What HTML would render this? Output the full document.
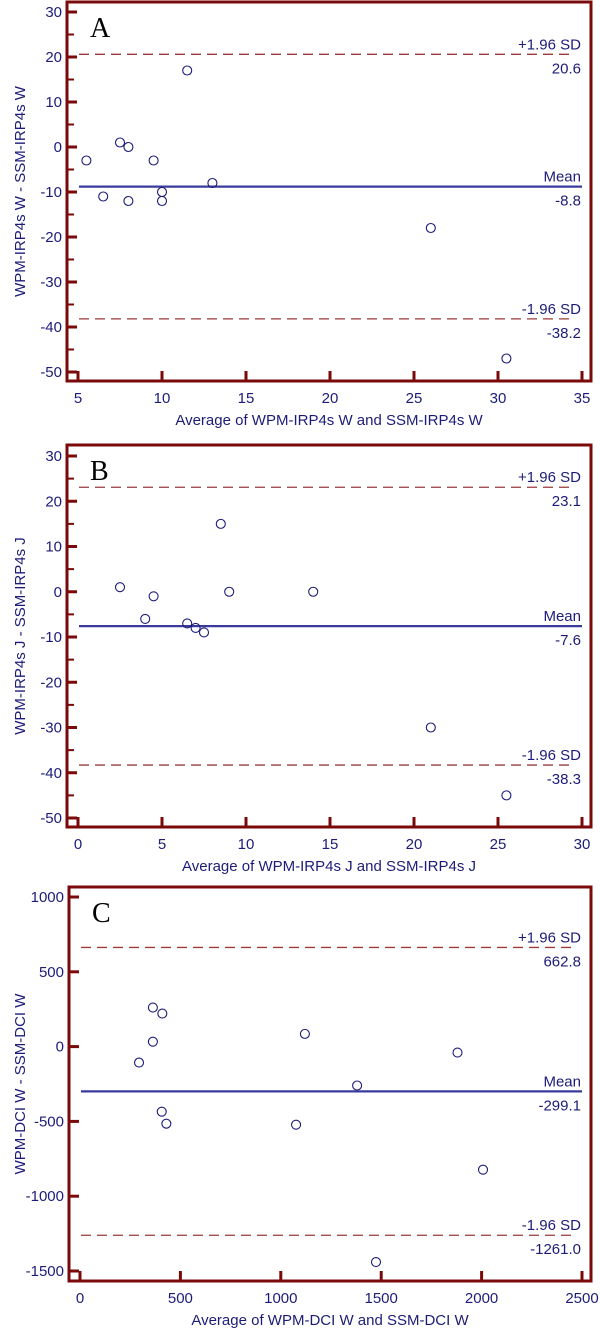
<!DOCTYPE html>
<html><head><meta charset="utf-8">
<style>
html,body{margin:0;padding:0;background:#fff;}
svg{display:block;font-family:"Liberation Sans",Arial,sans-serif;}
</style></head>
<body>
<svg id="chart" width="600" height="1328" viewBox="0 0 600 1328" xmlns="http://www.w3.org/2000/svg"></svg>
<script>
// Panel A data
const aX = [5.5, 6.5, 7.5, 8, 8, 9.5, 10, 10, 11.5, 13, 26, 30.5];
const aY = [-3, -11, 1, 0, -12, -3, -10, -12, 17, -8, -18, -47];
const aStats = [20.6, -8.8, -38.2];
const aXTicks = [5, 10, 15, 20, 25, 30, 35];
const aYTicks = [30, 20, 10, 0, -10, -20, -30, -40, -50];
// Panel B data
const bX = [2.5, 4, 4.5, 6.5, 7, 7.5, 8.5, 9, 14, 21, 25.5];
const bY = [1, -6, -1, -7, -8, -9, 15, 0, 0, -30, -45];
const bStats = [23.1, -7.6, -38.3];
const bXTicks = [0, 5, 10, 15, 20, 25, 30];
const bYTicks = [30, 20, 10, 0, -10, -20, -30, -40, -50];
// Panel C data
const cX = [294, 363, 363, 410, 407, 430, 1076, 1120, 1380, 1880, 2007, 1474];
const cY = [-107, 261, 33, 221, -435, -515, -522, 85, -260, -40, -823, -1440];
const cStats = [662.8, -299.1, -1261.0];
const cXTicks = [0, 500, 1000, 1500, 2000, 2500];
const cYTicks = [1000, 500, 0, -500, -1000, -1500];

const NS = "http://www.w3.org/2000/svg";
const svg = document.getElementById('chart');
const RED = "#7a0a0a", NAVY = "#1c1c78", BLUE = "#3a3a9e", DASH = "#9a3a3a";

function mk(tag, attrs, parent) {
  const e = document.createElementNS(NS, tag);
  for (const k in attrs) e.setAttribute(k, attrs[k]);
  (parent || svg).appendChild(e);
  return e;
}

const panels = [
  {id:'a', letter:'A', xs:aX, ys:aY, stats:aStats, xt:aXTicks, yt:aYTicks, minor:5, dec:1,
   frame:[67,2,591,381], x0:5, x1:35, px0:78, px1:582, y0:30, y1:-50, py0:12, py1:372,
   xtitle:'Average of WPM-IRP4s W and SSM-IRP4s W', ytitle:'WPM-IRP4s W - SSM-IRP4s W'},
  {id:'b', letter:'B', xs:bX, ys:bY, stats:bStats, xt:bXTicks, yt:bYTicks, minor:5, dec:1,
   frame:[67,445,591,827], x0:0, x1:30, px0:78, px1:582, y0:30, y1:-50, py0:456, py1:818,
   xtitle:'Average of WPM-IRP4s J and SSM-IRP4s J', ytitle:'WPM-IRP4s J - SSM-IRP4s J'},
  {id:'c', letter:'C', xs:cX, ys:cY, stats:cStats, xt:cXTicks, yt:cYTicks, minor:0, dec:1,
   frame:[69,887,591,1281], x0:0, x1:2500, px0:80, px1:582, y0:1000, y1:-1500, py0:897, py1:1271,
   xtitle:'Average of WPM-DCI W and SSM-DCI W', ytitle:'WPM-DCI W - SSM-DCI W'}
];

panels.forEach(p => {
  const sx = v => p.px0 + (v - p.x0) * (p.px1 - p.px0) / (p.x1 - p.x0);
  const sy = v => p.py0 + (v - p.y0) * (p.py1 - p.py0) / (p.y1 - p.y0);
  const g = mk('g', {});
  
  
  const [L, T, R, B] = p.frame;

  // minor y ticks
  if (p.minor) {
    for (let v = p.y0; v >= p.y1; v -= p.minor) {
      if (p.yt.indexOf(v) >= 0) continue;
      const t = mk('line', {x1:L, x2:L+7, y1:sy(v), y2:sy(v), stroke:RED, 'stroke-width':2}, g);
      
      
    }
  }
  // y ticks + labels
  p.yt.forEach(v => {
    const t = mk('line', {x1:L, x2:L+10, y1:sy(v), y2:sy(v), stroke:RED, 'stroke-width':3}, g);
    
    
    const tx = mk('text', {x:L-5, y:sy(v)+5, 'text-anchor':'end', 'font-size':15, fill:NAVY}, g);
    tx.textContent = String(v);
    
    
  });
  // x ticks + labels
  p.xt.forEach(v => {
    const t = mk('line', {x1:sx(v), x2:sx(v), y1:B, y2:B-10, stroke:RED, 'stroke-width':3}, g);
    
    
    const tx = mk('text', {x:sx(v), y:B+22, 'text-anchor':'middle', 'font-size':15, fill:NAVY}, g);
    tx.textContent = String(v);
    
    
  });
  // frame
  const fr = mk('rect', {x:L, y:T, width:R-L, height:B-T, fill:'none', stroke:RED, 'stroke-width':3}, g);
  
  

  // letter
  const lt = mk('text', {x:L+23, y:T+35, 'font-family':'"Liberation Serif",serif', 'font-size':28, fill:'#000'}, g);
  lt.textContent = p.letter;
  
  

  // stat lines
  const xa = p.px0 + 1, xb = 582;
  const labels = ['+1.96 SD', 'Mean', '-1.96 SD'];
  p.stats.forEach((s, i) => {
    const y = sy(s);
    const ln = mk('line', {x1:xa, x2:xb - (i === 1 ? 0 : 8), y1:y, y2:y,
      stroke: i === 1 ? BLUE : DASH, 'stroke-width': i === 1 ? 2.2 : 1.3,
      'stroke-dasharray': i === 1 ? 'none' : '10,6'}, g);
    
    
    const t1 = mk('text', {x:581, y:y-5, 'text-anchor':'end', 'font-size':15, fill:NAVY}, g);
    t1.textContent = labels[i];
    
    
    const t2 = mk('text', {x:581, y:y+19, 'text-anchor':'end', 'font-size':15, fill:NAVY}, g);
    t2.textContent = s.toFixed(p.dec);
    
    
  });

  // points
  p.xs.forEach((xv, i) => {
    const c = mk('circle', {cx:sx(xv), cy:sy(p.ys[i]), r:4.5, fill:'none', stroke:NAVY, 'stroke-width':1.1}, g);
    
    
  });

  // axis titles
  const xt = mk('text', {x:(L+R)/2, y:B+44, 'text-anchor':'middle', 'font-size':15, fill:NAVY}, g);
  xt.textContent = p.xtitle;
  
  
  const cy = (T+B)/2;
  const yt = mk('text', {x:0, y:0, 'text-anchor':'middle', 'font-size':15, fill:NAVY,
    transform:'translate(25,' + cy + ') rotate(-90)'}, g);
  yt.textContent = p.ytitle;
  
  
});
</script>
</body></html>
